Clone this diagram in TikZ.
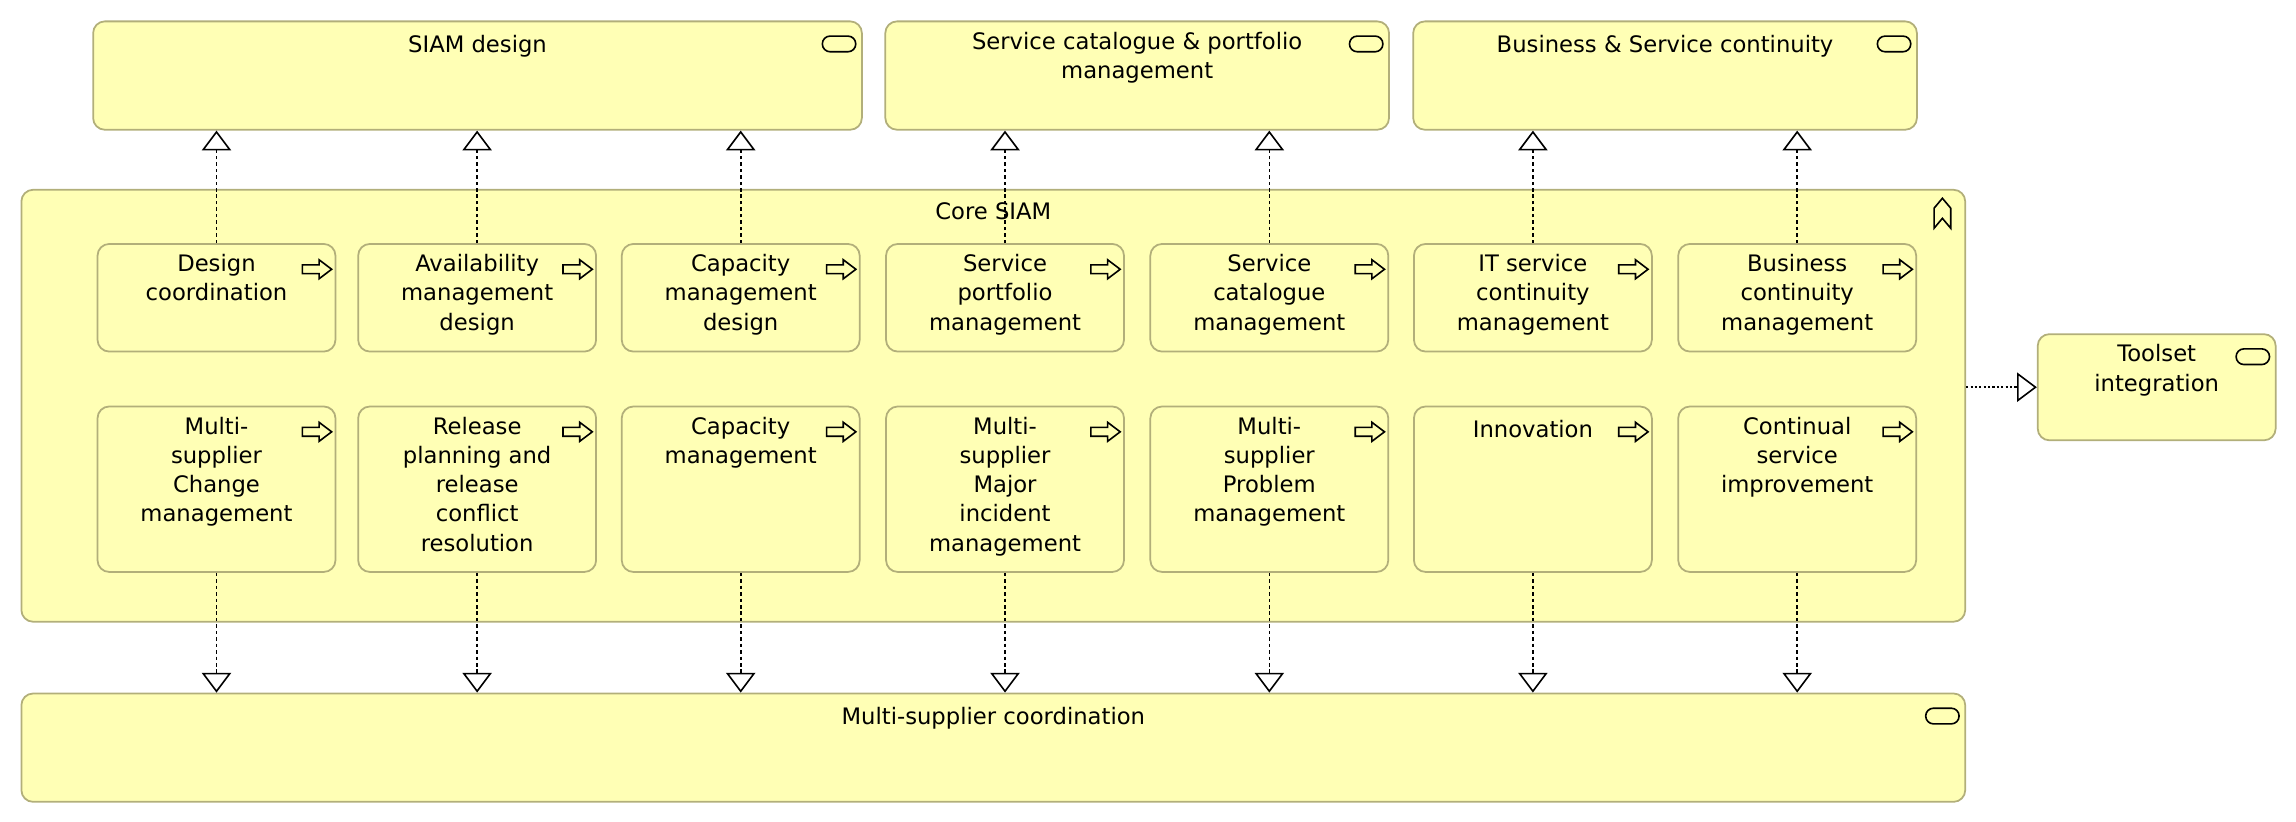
\documentclass[tikz,border=0pt]{standalone}
\usepackage{fontspec}
\setmainfont{DejaVu Sans}
\usetikzlibrary{arrows.meta,positioning}
\definecolor{elemfill}{RGB}{255,255,181}
\definecolor{elemline}{RGB}{178,175,122}
\newcommand{\elemfont}{\fontsize{15.5}{20}\selectfont}

\begin{document}
\begin{tikzpicture}[x=1pt,y=-1pt,
    box/.style={draw=elemline,fill=elemfill,line width=1.2pt,rounded corners=8pt,anchor=north west,inner sep=0pt},
    txt/.style={font=\elemfont,align=center,anchor=north,inner sep=0pt,execute at begin node=\strut},
    real/.style={line width=1.1pt,dash pattern=on 2.4pt off 2pt,-{Triangle[open,length=13.5pt,width=20pt]}},
    spec/.style={line width=1.1pt,dash pattern=on 1.5pt off 1.5pt,-{Triangle[open,length=13.5pt,width=20pt]}},
    pics/procsign/.style={code={\draw[line width=1.1pt,line join=miter] (-10,-3) -- (1.4,-3) -- (1.4,-6.5) -- (10,0) -- (1.4,6.5) -- (1.4,3) -- (-10,3) -- cycle;}},
    pics/servsign/.style={code={\draw[line width=1.1pt,rounded corners=5.3pt] (-11.4,-5.35) rectangle (11.4,5.35);}},
    pics/funcsign/.style={code={\draw[line width=1.1pt] (0,20.5) -- (0,6.8) -- (5.7,0) -- (11.4,6.8) -- (11.4,20.5) -- (5.7,13.7) -- cycle;}}]
        \useasboundingbox (0,0) rectangle (1568,561.3);
        % core grouping
        \node[box,minimum width=1327.5pt,minimum height=295pt] (core) at (14,129) {};
        \node[txt,below=7pt of core.north] {Core SIAM};
        \pic at ([xshift=-21.9pt,yshift=-6.4pt]core.north east) {funcsign};
        % services on top
        \node[box,minimum width=525pt,minimum height=74pt] (siam) at (63,14) {};
        \node[txt,below=7.5pt of siam.north] {SIAM design};
        \pic at ([xshift=-16.2pt,yshift=-16pt]siam.north east) {servsign};
        \node[box,minimum width=344pt,minimum height=74pt] (catalog) at (604,14) {};
        \node[txt,below=7.5pt of catalog.north] {Service catalogue \& portfolio\\management};
        \pic at ([xshift=-16.2pt,yshift=-16pt]catalog.north east) {servsign};
        \node[box,minimum width=344pt,minimum height=74pt] (continuity) at (964.5,14) {};
        \node[txt,below=7.5pt of continuity.north] {Business \& Service continuity};
        \pic at ([xshift=-16.2pt,yshift=-16pt]continuity.north east) {servsign};
        % first row of processes
        \node[box,minimum width=162.5pt,minimum height=73.5pt] (d1) at (66,166) {};
        \node[txt,below=7.5pt of d1.north] {Design\\coordination};
        \pic at ([xshift=-13.2pt,yshift=-17.9pt]d1.north east) {procsign};
        \node[box,minimum width=162.5pt,minimum height=73.5pt] (d2) at (244,166) {};
        \node[txt,below=7.5pt of d2.north] {Availability\\management\\design};
        \pic at ([xshift=-13.2pt,yshift=-17.9pt]d2.north east) {procsign};
        \node[box,minimum width=162.5pt,minimum height=73.5pt] (d3) at (424,166) {};
        \node[txt,below=7.5pt of d3.north] {Capacity\\management\\design};
        \pic at ([xshift=-13.2pt,yshift=-17.9pt]d3.north east) {procsign};
        \node[box,minimum width=162.5pt,minimum height=73.5pt] (d4) at (604.5,166) {};
        \node[txt,below=7.5pt of d4.north] {Service\\portfolio\\management};
        \pic at ([xshift=-13.2pt,yshift=-17.9pt]d4.north east) {procsign};
        \node[box,minimum width=162.5pt,minimum height=73.5pt] (d5) at (785,166) {};
        \node[txt,below=7.5pt of d5.north] {Service\\catalogue\\management};
        \pic at ([xshift=-13.2pt,yshift=-17.9pt]d5.north east) {procsign};
        \node[box,minimum width=162.5pt,minimum height=73.5pt] (d6) at (965,166) {};
        \node[txt,below=7.5pt of d6.north] {IT service\\continuity\\management};
        \pic at ([xshift=-13.2pt,yshift=-17.9pt]d6.north east) {procsign};
        \node[box,minimum width=162.5pt,minimum height=73.5pt] (d7) at (1145.5,166) {};
        \node[txt,below=7.5pt of d7.north] {Business\\continuity\\management};
        \pic at ([xshift=-13.2pt,yshift=-17.9pt]d7.north east) {procsign};
        % second row of processes
        \node[box,minimum width=162.5pt,minimum height=113pt] (m1) at (66,277) {};
        \node[txt,below=7.5pt of m1.north] {Multi-\\supplier\\Change\\management};
        \pic at ([xshift=-13.2pt,yshift=-17.9pt]m1.north east) {procsign};
        \node[box,minimum width=162.5pt,minimum height=113pt] (m2) at (244,277) {};
        \node[txt,below=7.5pt of m2.north] {Release\\planning and\\release\\conflict\\resolution};
        \pic at ([xshift=-13.2pt,yshift=-17.9pt]m2.north east) {procsign};
        \node[box,minimum width=162.5pt,minimum height=113pt] (m3) at (424,277) {};
        \node[txt,below=7.5pt of m3.north] {Capacity\\management};
        \pic at ([xshift=-13.2pt,yshift=-17.9pt]m3.north east) {procsign};
        \node[box,minimum width=162.5pt,minimum height=113pt] (m4) at (604.5,277) {};
        \node[txt,below=7.5pt of m4.north] {Multi-\\supplier\\Major\\incident\\management};
        \pic at ([xshift=-13.2pt,yshift=-17.9pt]m4.north east) {procsign};
        \node[box,minimum width=162.5pt,minimum height=113pt] (m5) at (785,277) {};
        \node[txt,below=7.5pt of m5.north] {Multi-\\supplier\\Problem\\management};
        \pic at ([xshift=-13.2pt,yshift=-17.9pt]m5.north east) {procsign};
        \node[box,minimum width=162.5pt,minimum height=113pt] (m6) at (965,277) {};
        \node[txt,below=7.5pt of m6.north] {Innovation};
        \pic at ([xshift=-13.2pt,yshift=-17.9pt]m6.north east) {procsign};
        \node[box,minimum width=162.5pt,minimum height=113pt] (m7) at (1145.5,277) {};
        \node[txt,below=7.5pt of m7.north] {Continual\\service\\improvement};
        \pic at ([xshift=-13.2pt,yshift=-17.9pt]m7.north east) {procsign};
        % bottom and side services
        \node[box,minimum width=1327.5pt,minimum height=74pt] (msc) at (14,473) {};
        \node[txt,below=7.5pt of msc.north] {Multi-supplier coordination};
        \pic at ([xshift=-16.2pt,yshift=-16pt]msc.north east) {servsign};
        \node[box,minimum width=162.5pt,minimum height=72.5pt] (toolset) at (1391,227.6) {};
        \node[txt,below=7.5pt of toolset.north] {Toolset\\integration};
        \pic at ([xshift=-16.2pt,yshift=-16pt]toolset.north east) {servsign};
        % realizations
        \draw[real] (d1.north) -- (d1.north |- siam.south);
        \draw[real] (d2.north) -- (d2.north |- siam.south);
        \draw[real] (d3.north) -- (d3.north |- siam.south);
        \draw[real] (d4.north) -- (d4.north |- catalog.south);
        \draw[real] (d5.north) -- (d5.north |- catalog.south);
        \draw[real] (d6.north) -- (d6.north |- continuity.south);
        \draw[real] (d7.north) -- (d7.north |- continuity.south);
        \draw[real] (m1.south) -- (m1.south |- msc.north);
        \draw[real] (m2.south) -- (m2.south |- msc.north);
        \draw[real] (m3.south) -- (m3.south |- msc.north);
        \draw[real] (m4.south) -- (m4.south |- msc.north);
        \draw[real] (m5.south) -- (m5.south |- msc.north);
        \draw[real] (m6.south) -- (m6.south |- msc.north);
        \draw[real] (m7.south) -- (m7.south |- msc.north);
        \draw[spec] (toolset.west -| core.east) -- (toolset.west);
\end{tikzpicture}
\end{document}
